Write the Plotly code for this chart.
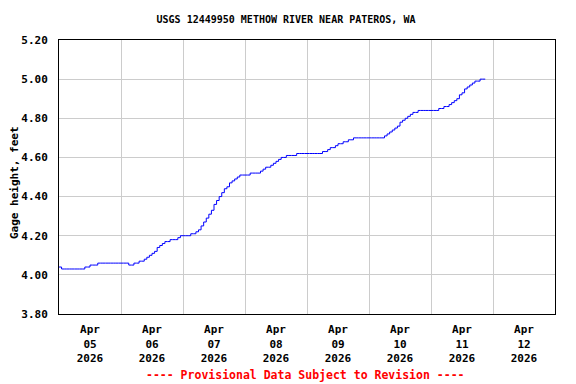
import pandas as pd
import plotly.graph_objects as go

# ---- data ----
start_time = "2026-04-05 00:00"
gage_height_ft = [
    # Apr 05 (hourly from 00:00)
    4.04, 4.03, 4.03, 4.03, 4.03, 4.03, 4.03, 4.03, 4.03, 4.03, 4.04, 4.04,
    4.05, 4.05, 4.05, 4.06, 4.06, 4.06, 4.06, 4.06, 4.06, 4.06, 4.06, 4.06,
    # Apr 06
    4.06, 4.06, 4.06, 4.05, 4.05, 4.06, 4.06, 4.07, 4.07, 4.08, 4.09, 4.10,
    4.11, 4.12, 4.14, 4.15, 4.16, 4.17, 4.17, 4.18, 4.18, 4.18, 4.19, 4.20,
    # Apr 07
    4.20, 4.20, 4.20, 4.21, 4.21, 4.22, 4.23, 4.25, 4.27, 4.29, 4.31, 4.33,
    4.36, 4.38, 4.40, 4.42, 4.44, 4.45, 4.47, 4.48, 4.49, 4.50, 4.51, 4.51,
    # Apr 08
    4.51, 4.51, 4.52, 4.52, 4.52, 4.52, 4.53, 4.54, 4.55, 4.55, 4.56, 4.57,
    4.58, 4.59, 4.60, 4.60, 4.61, 4.61, 4.61, 4.61, 4.62, 4.62, 4.62, 4.62,
    # Apr 09
    4.62, 4.62, 4.62, 4.62, 4.62, 4.62, 4.63, 4.63, 4.64, 4.65, 4.65, 4.66,
    4.67, 4.67, 4.68, 4.68, 4.69, 4.69, 4.70, 4.70, 4.70, 4.70, 4.70, 4.70,
    # Apr 10
    4.70, 4.70, 4.70, 4.70, 4.70, 4.70, 4.71, 4.72, 4.73, 4.74, 4.75, 4.76,
    4.78, 4.79, 4.80, 4.81, 4.82, 4.83, 4.83, 4.84, 4.84, 4.84, 4.84, 4.84,
    # Apr 11
    4.84, 4.84, 4.84, 4.85, 4.85, 4.86, 4.86, 4.87, 4.88, 4.89, 4.90, 4.92,
    4.93, 4.95, 4.96, 4.97, 4.98, 4.99, 4.99, 5.00, 5.00, 5.00,
]
day_labels = ["Apr<br>05<br>2026", "Apr<br>06<br>2026", "Apr<br>07<br>2026",
              "Apr<br>08<br>2026", "Apr<br>09<br>2026", "Apr<br>10<br>2026",
              "Apr<br>11<br>2026", "Apr<br>12<br>2026"]
day_dates = ["2026-04-05", "2026-04-06", "2026-04-07", "2026-04-08",
             "2026-04-09", "2026-04-10", "2026-04-11", "2026-04-12"]
y_ticks = [3.80, 4.00, 4.20, 4.40, 4.60, 4.80, 5.00, 5.20]

times = pd.date_range(start_time, periods=len(gage_height_ft), freq="h")
noons = [pd.Timestamp(d) + pd.Timedelta(hours=12) for d in day_dates]
midnights = [pd.Timestamp(d) for d in day_dates[1:]]

FONT = "DejaVu Sans Mono"
# the page body has an 8px margin; size the figure to fit the window
W, H, OFF = 568, 376, 8
PL, PT, PR, PB = 59, 40, 555, 314   # plot box in window pixels

fig = go.Figure()
fig.add_trace(go.Scatter(
    x=times, y=gage_height_ft, mode="lines",
    line=dict(color="#0000ff", width=1, shape="hv"),
    hoverinfo="x+y", showlegend=False,
))

fig.update_layout(
    width=W, height=H,
    margin=dict(l=PL - OFF, r=W + OFF - PR, t=PT - OFF, b=H + OFF - PB, autoexpand=False),
    paper_bgcolor="white", plot_bgcolor="white",
    font=dict(family=FONT, size=11, color="black"),
    title=dict(text="<b>USGS 12449950 METHOW RIVER NEAR PATEROS, WA</b>",
               x=(286 - OFF) / W, xref="container", xanchor="center",
               y=1 - (19 - OFF) / H, yref="container", yanchor="middle",
               font=dict(family=FONT, size=10, color="black"),
               automargin=False),
    showlegend=False,
)

fig.update_xaxes(
    type="date", automargin=False,
    range=[pd.Timestamp(day_dates[0]), pd.Timestamp(day_dates[-1]) + pd.Timedelta(days=1)],
    tickmode="array", tickvals=noons,
    ticktext=["<b>" + t.replace("<br>", "</b><br><b>") + "</b>" for t in day_labels],
    showgrid=False, ticks="", ticklabelstandoff=5,
    minor=dict(tickmode="array", tickvals=midnights, showgrid=True,
               gridcolor="#cccccc", gridwidth=1, ticks=""),
    showline=True, linecolor="black", linewidth=1, mirror=True,
    zeroline=False,
)

fig.update_yaxes(
    range=[3.80, 5.20], automargin=False,
    tickmode="array", tickvals=y_ticks,
    ticktext=["<b>%.2f</b>" % v for v in y_ticks],
    showgrid=True, gridcolor="#cccccc", gridwidth=1, ticks="",
    ticklabelstandoff=8,
    showline=True, linecolor="black", linewidth=1, mirror=True,
    zeroline=False,
)

pw, ph = PR - PL, PB - PT
fig.add_annotation(
    text="<b>Gage height, feet</b>", textangle=-90,
    xref="paper", yref="paper", x=(14 - PL) / pw, y=(PB - 183) / ph,
    xanchor="center", yanchor="middle", showarrow=False,
    font=dict(family=FONT, size=11, color="black"),
)
fig.add_annotation(
    text="<b>---- Provisional Data Subject to Revision ----</b>",
    xref="paper", yref="paper", x=(305 - PL) / pw, y=(PB - 375) / ph,
    xanchor="center", yanchor="middle", showarrow=False,
    font=dict(family=FONT, size=11.5, color="#ff0000"),
)

fig.write_html("out.html")
